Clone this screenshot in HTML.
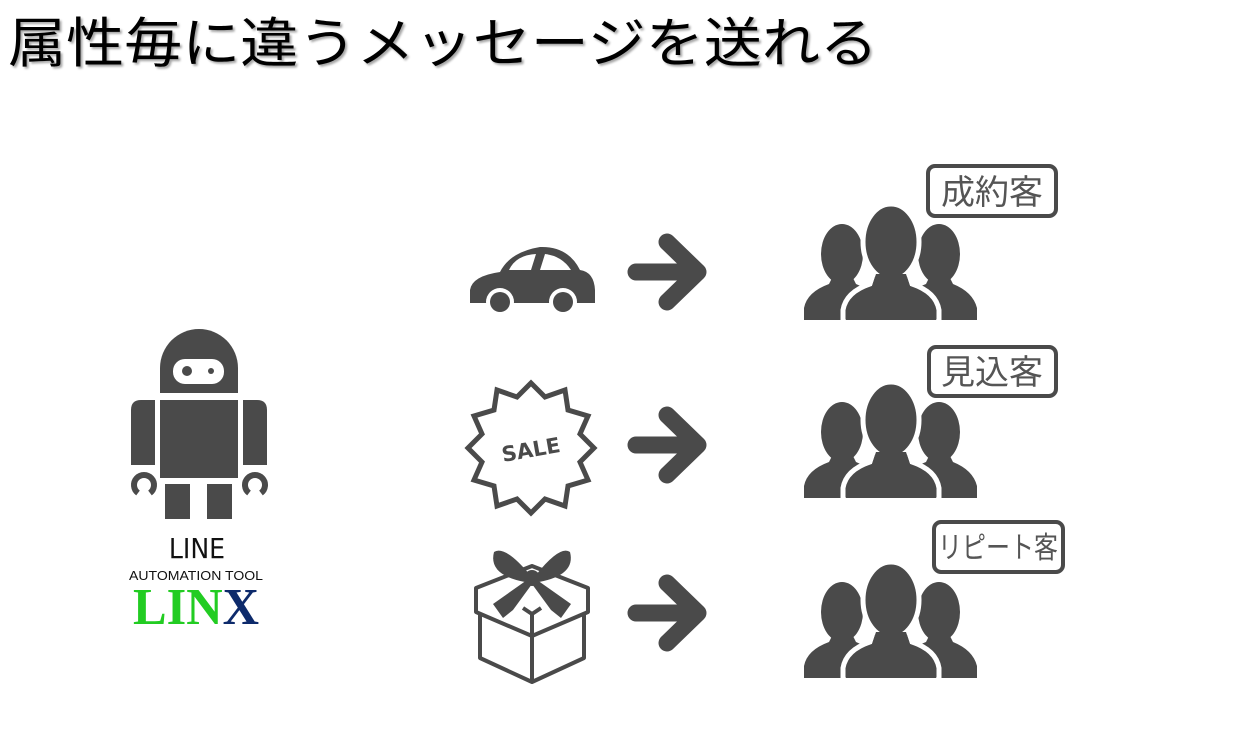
<!DOCTYPE html>
<html><head><meta charset="utf-8"><style>
html,body{margin:0;padding:0;background:#fff;}
body{width:1259px;height:751px;overflow:hidden;}
</style></head><body>
<svg width="1259" height="751" viewBox="0 0 1259 751" xmlns="http://www.w3.org/2000/svg">
<rect width="1259" height="751" fill="#fff"/>
<text x="8" y="62" font-family="'Liberation Sans','Noto Sans CJK JP',sans-serif" font-size="54" fill="#000" style="filter:drop-shadow(2px 2px 1px rgba(0,0,0,0.35))" textLength="870" lengthAdjust="spacingAndGlyphs">属性毎に違うメッセージを送れる</text>

<!-- Robot -->
<g fill="#4a4a4a">
<path d="M160,393 L160,368 A39,39 0 0 1 238,368 L238,393 Z"/>
<rect x="160" y="400" width="78" height="78"/>
<path d="M131,465 L131,410 Q131,400 141,400 L155,400 L155,465 Z"/>
<path d="M243,465 L243,400 L257,400 Q267,400 267,410 L267,465 Z"/>
<rect x="165" y="484" width="25" height="35"/>
<rect x="207" y="484" width="25" height="35"/>
</g>
<rect x="173" y="359" width="51" height="25" rx="12" fill="#fff"/>
<circle cx="187" cy="371" r="5" fill="#4a4a4a"/>
<circle cx="211" cy="371" r="3" fill="#4a4a4a"/>
<g fill="none" stroke="#4a4a4a" stroke-width="6">
<path d="M138,493 A10,10 0 1 1 150,493"/>
<path d="M249,493 A10,10 0 1 1 261,493"/>
</g>
<text x="197" y="558" text-anchor="middle" font-family="'DejaVu Sans Condensed','Liberation Sans',sans-serif" font-size="28" fill="#111">LINE</text>
<text x="196" y="580" text-anchor="middle" font-family="'Liberation Sans',sans-serif" font-size="13" fill="#111" textLength="134" lengthAdjust="spacingAndGlyphs">AUTOMATION TOOL</text>
<text x="133" y="624" font-family="'Liberation Serif',serif" font-weight="bold" font-size="52" textLength="126" lengthAdjust="spacingAndGlyphs"><tspan fill="#22cc22">LIN</tspan><tspan fill="#0d2a6b">X</tspan></text>

<!-- Car -->
<path d="M470,303 L470,290 Q472,276 500,272 Q510,252 540,247 Q568,246 580,270 Q594,272 595,290 L595,303 Z" fill="#4a4a4a"/>
<path d="M509,270 Q516,255 536,254 L531,270 Z" fill="#fff"/>
<path d="M540,270 L545,254 Q562,256 571,270 Z" fill="#fff"/>
<circle cx="500" cy="302" r="14" fill="#fff"/><circle cx="500" cy="302" r="10" fill="#4a4a4a"/>
<circle cx="563" cy="302" r="14" fill="#fff"/><circle cx="563" cy="302" r="10" fill="#4a4a4a"/>

<!-- Sale star -->
<polygon fill="#fff" stroke="#4a4a4a" stroke-width="5" stroke-linejoin="miter" points="531,383 545,397 565,390 568,410 588,416 580,434 594,448 580,462 588,480 568,486 565,506 545,499 531,513 517,499 497,506 494,486 474,480 482,462 468,448 482,434 474,416 494,410 497,390 517,397"/>
<text x="531" y="457" text-anchor="middle" transform="rotate(-10 531 450)" font-family="'DejaVu Sans','Liberation Sans',sans-serif" font-weight="bold" font-size="21" fill="#4a4a4a">SALE</text>

<!-- Gift -->
<g fill="none" stroke="#4a4a4a" stroke-width="4" stroke-linejoin="round">
<path d="M476,588 L532,566 L588,588 L588,612 L532,636 L476,612 Z"/>
<path d="M480,614 L480,658 L532,682 L584,658 L584,614"/>
<path d="M532,612 L532,682"/>
<path d="M523,608 L532,614 L541,608"/>
</g>
<g fill="#4a4a4a">
<path d="M530,575 Q505,545 494,552 Q488,575 525,582 Z"/>
<path d="M536,575 Q560,545 570,552 Q576,575 539,582 Z"/>
<circle cx="532" cy="578" r="8"/>
<path d="M527,580 L493,604 L503,618 L513,610 L532,584 Z"/>
<path d="M537,580 L571,604 L561,618 L551,610 L532,584 Z"/>
</g>

<!-- Arrows -->
<g fill="none" stroke="#4a4a4a" stroke-width="17" stroke-linecap="round" stroke-linejoin="round">
<path d="M636,272 L698,272 M667,242 L698,272 L667,302"/>
<path d="M636,445 L698,445 M667,415 L698,445 L667,475"/>
<path d="M636,613 L698,613 M667,583 L698,613 L667,643"/>
</g>

<!-- People groups -->
<defs>
<g id="grp">
<ellipse cx="842" cy="432" rx="21" ry="30" fill="#4a4a4a"/>
<path d="M804,498 L804,486 Q807,470 829,462 L834,452 L851,452 L856,462 Q876,470 879,486 L879,498 Z" fill="#4a4a4a"/>
<ellipse cx="939" cy="432" rx="21" ry="30" fill="#4a4a4a"/>
<path d="M901,498 L901,486 Q904,470 926,462 L931,452 L948,452 L953,462 Q973,470 977,486 L977,498 Z" fill="#4a4a4a"/>
<g stroke="#fff" stroke-width="5" fill="#4a4a4a">
<path d="M843,500 L843,488 Q846,470 870,462 L874,450 L908,450 L912,462 Q936,470 939,488 L939,500 Z"/>
<ellipse cx="891" cy="420" rx="28" ry="38"/>
</g>
<path d="M846,498 L846,488 Q849,472 872,464 L876,452 L906,452 L910,464 Q933,472 936,488 L936,498 Z" fill="#4a4a4a"/>
</g>
</defs>
<use href="#grp" transform="translate(0,-178)"/>
<use href="#grp"/>
<use href="#grp" transform="translate(0,180)"/>

<!-- Labels -->
<g fill="#fff" stroke="#4a4a4a" stroke-width="4">
<rect x="928" y="166" width="128" height="50" rx="7"/>
<rect x="929" y="347" width="127" height="49" rx="7"/>
<rect x="934" y="522" width="129" height="50" rx="7"/>
</g>
<g font-family="'Liberation Sans','Noto Sans CJK JP',sans-serif" font-size="34" fill="#555" text-anchor="middle">
<text x="992" y="204">成約客</text>
<text x="992" y="384">見込客</text>
<text x="998" y="558" font-size="30" textLength="120" lengthAdjust="spacingAndGlyphs">リピート客</text>
</g>
</svg>
</body></html>
